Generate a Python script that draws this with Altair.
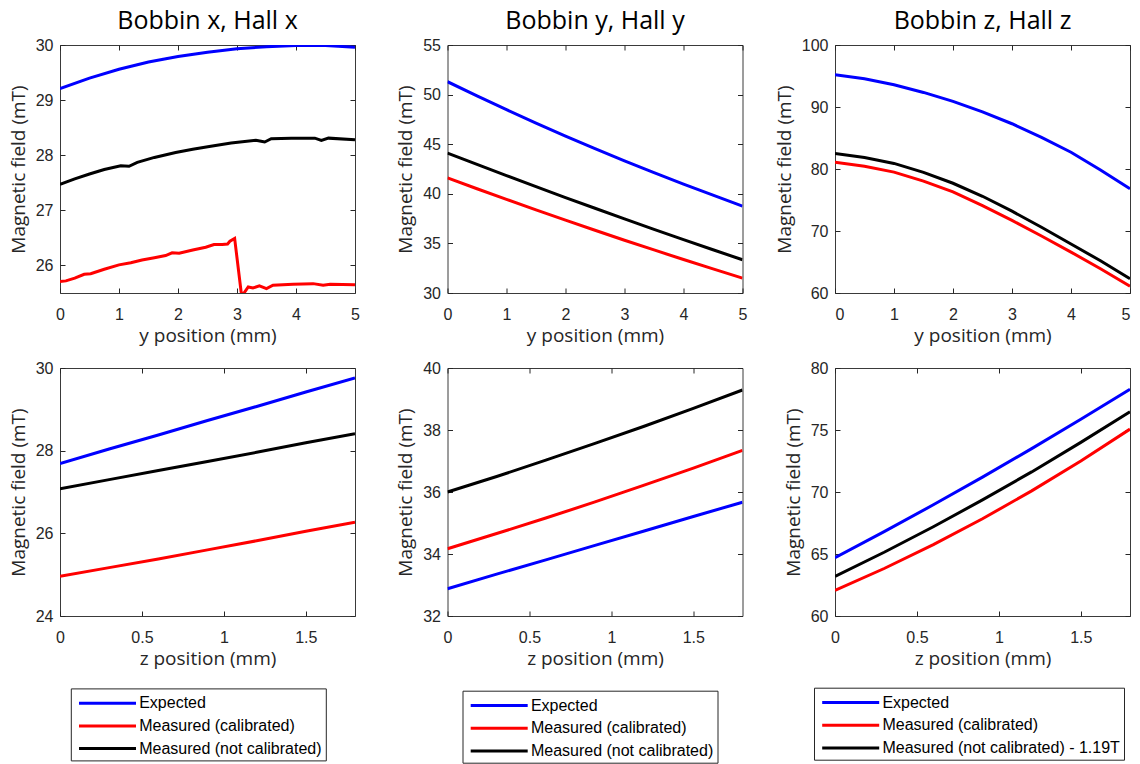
import altair as alt
import pandas as pd

# ---------------- data ----------------
NAMES_A = ["Expected", "Measured (calibrated)", "Measured (not calibrated)"]
NAMES_B = ["Expected", "Measured (calibrated)", "Measured (not calibrated) - 1.19T"]
COLORS = ["#0000ff", "#ff0000", "#000000"]

TITLES = ["Bobbin x, Hall x", "Bobbin y, Hall y", "Bobbin z, Hall z"]

# top-left: Bobbin x, Hall x, vs y position
tl_blue_x = [0, 0.5, 1, 1.5, 2, 2.5, 3, 3.5, 4, 4.5, 5]
tl_blue_y = [29.21, 29.40, 29.56, 29.69, 29.79, 29.87, 29.93, 29.97, 29.99, 29.99, 29.96]
tl_red_x = [0, 0.1, 0.25, 0.41, 0.52, 0.75, 1.0, 1.2, 1.39, 1.6, 1.79, 1.9, 2.02, 2.25, 2.47,
            2.61, 2.75, 2.84, 2.88, 2.96, 3.07, 3.1, 3.19, 3.27, 3.38, 3.5, 3.61, 3.95, 4.29,
            4.46, 4.58, 5.0]
tl_red_y = [25.71, 25.72, 25.77, 25.84, 25.85, 25.93, 26.01, 26.05, 26.10, 26.14, 26.18, 26.23,
            26.22, 26.28, 26.33, 26.38, 26.38, 26.39, 26.44, 26.49, 25.52, 25.47, 25.61, 25.59,
            25.63, 25.58, 25.64, 25.66, 25.67, 25.64, 25.66, 25.65]
tl_black_x = [0, 0.25, 0.5, 0.75, 1.03, 1.17, 1.31, 1.6, 1.96, 2.25, 2.53, 2.9, 3.32, 3.43,
              3.47, 3.58, 3.92, 4.32, 4.43, 4.55, 5.0]
tl_black_y = [27.47, 27.57, 27.66, 27.74, 27.81, 27.80, 27.87, 27.96, 28.05, 28.11, 28.16,
              28.22, 28.27, 28.25, 28.24, 28.30, 28.31, 28.31, 28.27, 28.31, 28.28]

# top row (vs y position)
top_x = [0, 0.5, 1, 1.5, 2, 2.5, 3, 3.5, 4, 4.5, 5]
tm_blue = [51.30, 49.87, 48.48, 47.13, 45.82, 44.55, 43.32, 42.13, 40.98, 39.87, 38.75]
tm_red = [41.60, 40.51, 39.44, 38.38, 37.34, 36.33, 35.32, 34.34, 33.38, 32.43, 31.50]
tm_black = [44.10, 42.96, 41.83, 40.72, 39.62, 38.54, 37.47, 36.42, 35.38, 34.36, 33.35]

tr_blue = [95.2, 94.55, 93.6, 92.35, 90.9, 89.2, 87.3, 85.1, 82.7, 79.85, 76.8]
tr_red = [81.1, 80.45, 79.5, 78.05, 76.3, 74.1, 71.7, 69.2, 66.6, 63.9, 61.1]
tr_black = [82.5, 81.85, 80.9, 79.45, 77.7, 75.6, 73.2, 70.6, 67.9, 65.2, 62.3]

# bottom row (vs z position)
bot_x = [0, 0.3, 0.6, 0.9, 1.2, 1.5, 1.8]
bl_blue = [27.69, 28.04, 28.38, 28.73, 29.07, 29.42, 29.76]
bl_red = [24.96, 25.17, 25.38, 25.60, 25.82, 26.05, 26.27]
bl_black = [27.08, 27.30, 27.52, 27.74, 27.96, 28.19, 28.41]

bm_blue = [32.88, 33.35, 33.81, 34.28, 34.74, 35.21, 35.67]
bm_red = [34.17, 34.66, 35.16, 35.68, 36.22, 36.77, 37.34]
bm_black = [36.00, 36.50, 37.03, 37.57, 38.12, 38.70, 39.29]

br_blue = [64.70, 66.80, 68.97, 71.20, 73.50, 75.86, 78.29]
br_red = [62.07, 63.83, 65.75, 67.84, 70.09, 72.50, 75.07]
br_black = [63.20, 65.14, 67.20, 69.36, 71.62, 74.00, 76.48]

# axes
TOP_XTICKS = [0, 1, 2, 3, 4, 5]
BOT_XTICKS = [0, 0.5, 1, 1.5]
TL_Y = (25.5, 30, [26, 27, 28, 29, 30])
TM_Y = (30, 55, [30, 35, 40, 45, 50, 55])
TR_Y = (60, 100, [60, 70, 80, 90, 100])
BL_Y = (24, 30, [24, 26, 28, 30])
BM_Y = (32, 40, [32, 34, 36, 38, 40])
BR_Y = (60, 80, [60, 65, 70, 75, 80])

# ---------------- helpers ----------------
TICK_FONT = "Liberation Sans"
TITLE_FONT = "Open Sans"
AX_COL = "#262626"
W, H = 295, 248


def make_df(names, pairs):
    rows = []
    for name, (xs, ys) in zip(names, pairs):
        for i, (xv, yv) in enumerate(zip(xs, ys)):
            rows.append({"x": xv, "y": yv, "series": name, "i": i})
    return pd.DataFrame(rows)


def panel(df, names, xdom, xticks, ycfg, xtitle, title=None, legend=None, flush=False):
    ylo, yhi, yticks = ycfg
    xs = alt.Scale(domain=list(xdom), nice=False, zero=False)
    ys = alt.Scale(domain=[ylo, yhi], nice=False, zero=False)
    common = dict(offset=-5, tickSize=5, domain=False, grid=False, tickColor=AX_COL,
                  tickWidth=1, minExtent=0)
    x_axis = alt.Axis(orient="bottom", values=xticks, format="~r", title=xtitle,
                      labelPadding=13, titlePadding=4, labelFlush=flush,
                      labelOverlap=False, **common)
    y_axis = alt.Axis(orient="left", values=yticks, format="~r", title="Magnetic field (mT)",
                      labelPadding=7, titlePadding=7, labelOverlap=False, **common)
    color = alt.Color("series:N", scale=alt.Scale(domain=names, range=COLORS),
                      sort=names, legend=legend)
    lines = alt.Chart(df).mark_line(strokeWidth=3, clip=True).encode(
        x=alt.X("x:Q", scale=xs, axis=x_axis),
        y=alt.Y("y:Q", scale=ys, axis=y_axis),
        color=color,
        order="i:Q",
    )
    frame = alt.Chart(df).mark_line(strokeOpacity=0, clip=True).encode(
        x=alt.X("x:Q", scale=xs, axis=alt.Axis(orient="top", values=xticks, labels=False,
                                               title=None, **common)),
        y=alt.Y("y:Q", scale=ys, axis=alt.Axis(orient="right", values=yticks, labels=False,
                                               title=None, **common)),
        detail="series:N",
    )
    ch = alt.layer(lines, frame).resolve_axis(x="independent", y="independent")
    props = dict(width=W, height=H)
    if title is not None:
        props["title"] = alt.TitleParams(title, font=TITLE_FONT, fontSize=25,
                                         fontWeight="normal", color="#000000",
                                         offset=3, anchor="middle")
    return ch.properties(**props)


def legend_for(lx, ly):
    return alt.Legend(orient="none", legendX=lx, legendY=ly, title=None,
                      symbolType="M-0.695,0H5.305", symbolStrokeWidth=3, symbolSize=361,
                      labelFont=TICK_FONT, labelFontSize=16, labelColor="#000000",
                      labelOffset=42.6, strokeColor=AX_COL, fillColor="#ffffff",
                      padding=3.8, rowPadding=3.7, labelLimit=400)


tl = panel(make_df(NAMES_A, [(tl_blue_x, tl_blue_y), (tl_red_x, tl_red_y),
                             (tl_black_x, tl_black_y)]),
           NAMES_A, (0, 5), TOP_XTICKS, TL_Y, "y position (mm)", TITLES[0])
tm = panel(make_df(NAMES_A, [(top_x, tm_blue), (top_x, tm_red), (top_x, tm_black)]),
           NAMES_A, (0, 5), TOP_XTICKS, TM_Y, "y position (mm)", TITLES[1])
tr = panel(make_df(NAMES_B, [(top_x, tr_blue), (top_x, tr_red), (top_x, tr_black)]),
           NAMES_B, (0, 5), TOP_XTICKS, TR_Y, "y position (mm)", TITLES[2], flush=True)
bl = panel(make_df(NAMES_A, [(bot_x, bl_blue), (bot_x, bl_red), (bot_x, bl_black)]),
           NAMES_A, (0, 1.8), BOT_XTICKS, BL_Y, "z position (mm)",
           legend=legend_for(10.8, 320.4))
bm = panel(make_df(NAMES_A, [(bot_x, bm_blue), (bot_x, bm_red), (bot_x, bm_black)]),
           NAMES_A, (0, 1.8), BOT_XTICKS, BM_Y, "z position (mm)",
           legend=legend_for(15, 322.7))
br = panel(make_df(NAMES_B, [(bot_x, br_blue), (bot_x, br_red), (bot_x, br_black)]),
           NAMES_B, (0, 1.8), BOT_XTICKS, BR_Y, "z position (mm)",
           legend=legend_for(-21, 319.7))

chart = alt.concat(tl, tm, tr, bl, bm, br, columns=3,
                   spacing={"row": 75, "column": 92.5}, bounds="flush").resolve_scale(
    color="independent", x="independent", y="independent"
).properties(
    padding={"left": 0, "top": 0, "right": 0, "bottom": 0}
).configure(
    background="#ffffff"
).configure_view(
    stroke="#3a3a3a", strokeWidth=1
).configure_axis(
    labelFont=TICK_FONT, labelFontSize=16, labelColor=AX_COL,
    titleFont=TITLE_FONT, titleFontSize=19, titleFontWeight="normal", titleColor=AX_COL,
)

chart.save("out.html", embed_options={"renderer": "svg", "actions": False})
